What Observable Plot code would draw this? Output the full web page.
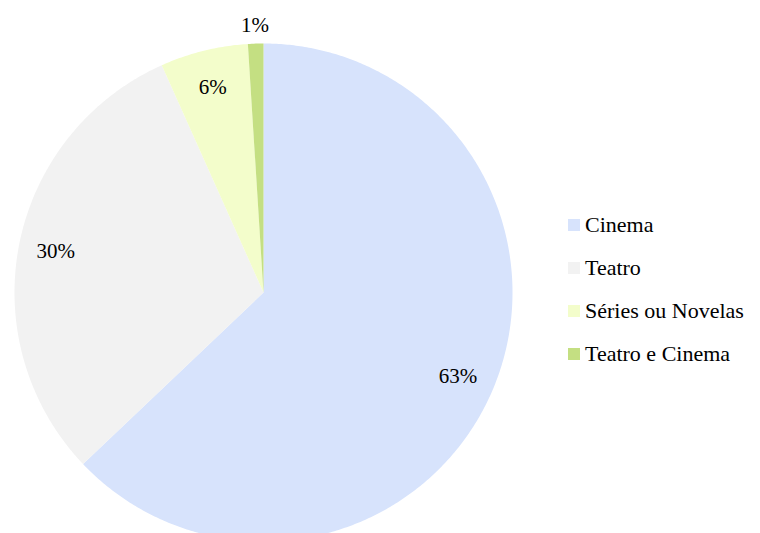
<!DOCTYPE html>
<html><head><meta charset="utf-8">
<script src="https://cdn.jsdelivr.net/npm/d3@7"></script>
<script src="https://cdn.jsdelivr.net/npm/@observablehq/plot@0.6"></script>
<style>
body{margin:0;background:#fff;}
#wrap{position:relative;width:760px;height:533px;overflow:hidden;font-family:'Liberation Serif','Tinos','DejaVu Serif',serif;}
#legend{position:absolute;left:568px;top:203px;}
.item{display:flex;align-items:center;height:43px;font-size:22px;color:#000;white-space:nowrap;}
.sw{width:12px;height:12px;margin-right:5px;flex:none;}
</style></head>
<body><div id="wrap"><div id="chart"></div><div id="legend"></div></div>
<script>
const categories = ["Cinema", "Teatro", "Séries ou Novelas", "Teatro e Cinema"];
const values = [62.9, 30.4, 5.7, 1.0];
const labels = ["63%", "30%", "6%", "1%"];
const colors = ["#d7e3fc", "#f2f2f2", "#f3fdcb", "#c4df82"];

const total = d3.sum(values);
const slices = [];
const textPts = [];
let start = 0;
values.forEach((v, i) => {
  const a0 = start / total * 2 * Math.PI;
  const a1 = (start + v) / total * 2 * Math.PI;
  slices.push({cat: categories[i], x: 0, y: 0});
  const n = Math.max(4, Math.ceil((a1 - a0) / (Math.PI / 360)));
  for (let k = 0; k <= n; k++) {
    const a = a0 + (a1 - a0) * k / n;
    slices.push({cat: categories[i], x: Math.sin(a), y: Math.cos(a)});
  }
  const am = (a0 + a1) / 2;
  const rr = v / total < 0.03 ? 1.075 : 0.85;
  textPts.push({label: labels[i], x: rr * Math.sin(am), y: rr * Math.cos(am)});
  start += v;
});

const chart = Plot.plot({
  width: 760, height: 533,
  margin: 0,
  x: {domain: [-1, 1], range: [14, 512], axis: null},
  y: {domain: [-1, 1], range: [541, 43], axis: null},
  color: {domain: categories, range: colors},
  style: {fontFamily: "'Liberation Serif','Tinos','DejaVu Serif',serif", background: "#fff", overflow: "visible"},
  marks: [
    Plot.line(slices, {x: "x", y: "y", z: "cat", fill: "cat", stroke: null, curve: "linear"}),
    Plot.text(textPts, {x: "x", y: "y", text: "label", fontSize: 21, fill: "#000", fontFamily: "'Liberation Serif','Tinos','DejaVu Serif',serif"})
  ]
});
document.getElementById("chart").appendChild(chart);

const lg = document.getElementById("legend");
categories.forEach((c, i) => {
  const d = document.createElement("div");
  d.className = "item";
  d.innerHTML = `<span class="sw" style="background:${colors[i]}"></span><span>${c}</span>`;
  lg.appendChild(d);
});
</script></body></html>
